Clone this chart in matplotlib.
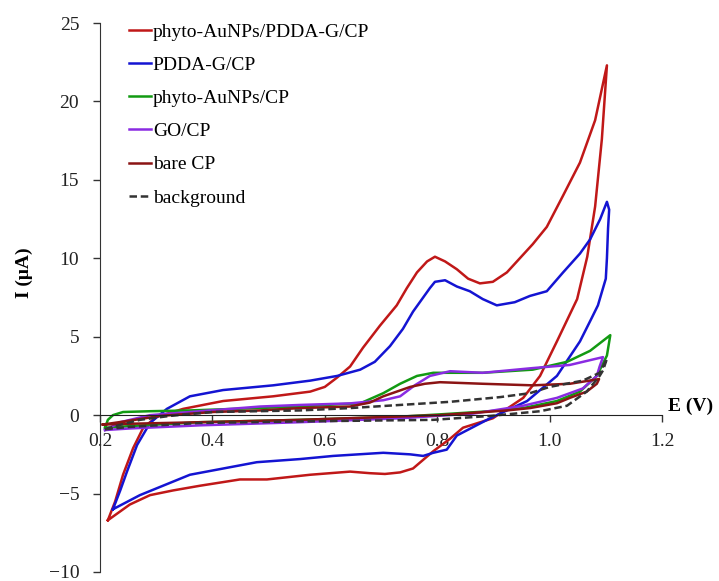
import matplotlib
matplotlib.use('Agg')
import matplotlib.pyplot as plt

plt.rcParams['font.family'] = ['Liberation Serif', 'DejaVu Serif']

# --- DATA (scan order around each loop) ---
labels = ['phyto-AuNPs/PDDA-G/CP', 'PDDA-G/CP', 'phyto-AuNPs/CP', 'GO/CP', 'bare CP', 'background']

E_au_pddag = [0.214, 0.227, 0.241, 0.259, 0.277, 0.301, 0.348, 0.419, 0.508, 0.574, 0.600, 0.622, 0.645,
              0.668, 0.698, 0.728, 0.746, 0.764, 0.782, 0.796, 0.814, 0.835, 0.855, 0.876, 0.899, 0.924,
              0.947, 0.970, 0.995, 1.024, 1.054, 1.081, 1.102,
              1.093, 1.081, 1.067, 1.049, 1.013, 0.983, 0.953, 0.899, 0.846, 0.823, 0.793, 0.757, 0.734,
              0.707, 0.680, 0.645, 0.574, 0.497, 0.449, 0.378, 0.330, 0.289, 0.253, 0.214]
I_au_pddag = [-6.7, -5.5, -3.8, -2.1, -0.8, -0.1, 0.4, 0.9, 1.2, 1.5, 1.8, 2.4, 3.1,
              4.3, 5.7, 7.0, 8.1, 9.1, 9.8, 10.1, 9.8, 9.3, 8.7, 8.4, 8.5, 9.1,
              10.0, 10.9, 12.0, 14.0, 16.1, 18.8, 22.3,
              17.6, 13.3, 10.1, 7.4, 4.7, 2.5, 1.1, -0.2, -0.8, -1.5, -2.3, -3.4, -3.65,
              -3.75, -3.7, -3.6, -3.8, -4.1, -4.1, -4.5, -4.8, -5.1, -5.7, -6.7]

E_pddag = [0.223, 0.236, 0.248, 0.266, 0.289, 0.319, 0.360, 0.419, 0.508, 0.574, 0.622, 0.663, 0.689,
           0.716, 0.739, 0.757, 0.773, 0.787, 0.796, 0.814, 0.835, 0.858, 0.881, 0.906, 0.938, 0.965,
           0.995, 1.024, 1.054, 1.072, 1.090, 1.102,
           1.106, 1.104, 1.102, 1.100, 1.086, 1.075, 1.054, 1.013, 0.960, 0.894, 0.835, 0.817, 0.793,
           0.775, 0.752, 0.704, 0.615, 0.556, 0.479, 0.360, 0.271, 0.223]
I_pddag = [-6.0, -4.8, -3.6, -1.9, -0.5, 0.4, 1.2, 1.6, 1.9, 2.2, 2.5, 2.9, 3.4,
           4.4, 5.5, 6.6, 7.4, 8.1, 8.5, 8.6, 8.2, 7.9, 7.4, 7.0, 7.2, 7.6,
           7.9, 9.1, 10.3, 11.2, 12.5, 13.6,
           13.1, 11.9, 10.0, 8.7, 7.0, 6.2, 4.7, 2.5, 0.9, -0.2, -1.3, -2.2, -2.4,
           -2.6, -2.5, -2.4, -2.6, -2.8, -3.0, -3.8, -5.1, -6.0]

E_au = [0.209, 0.214, 0.223, 0.241, 0.289, 0.360, 0.479, 0.556, 0.627, 0.663, 0.704, 0.734, 0.764,
        0.793, 0.881, 0.970, 1.031, 1.072, 1.108,
        1.102, 1.084, 1.054, 1.013, 0.953, 0.894, 0.805, 0.734, 0.556, 0.378, 0.253, 0.209]
I_au = [-0.8, -0.3, 0.0, 0.2, 0.25, 0.3, 0.45, 0.55, 0.7, 0.75, 1.4, 2.0, 2.5,
        2.7, 2.7, 2.9, 3.4, 4.1, 5.1,
        3.8, 2.5, 1.5, 0.9, 0.45, 0.25, 0.05, -0.1, -0.3, -0.45, -0.7, -0.8]

E_go = [0.209, 0.236, 0.289, 0.378, 0.485, 0.556, 0.645, 0.704, 0.734, 0.760, 0.787, 0.823, 0.881,
        0.970, 1.036, 1.095,
        1.089, 1.084, 1.059, 1.013, 0.953, 0.864, 0.734, 0.556, 0.378, 0.253, 0.209]
I_go = [-0.95, -0.45, 0.0, 0.25, 0.55, 0.65, 0.75, 0.95, 1.2, 1.9, 2.5, 2.8, 2.7,
        3.0, 3.2, 3.7,
        3.1, 2.5, 1.7, 1.1, 0.6, 0.1, -0.2, -0.45, -0.65, -0.85, -0.95]

E_bare = [0.205, 0.253, 0.307, 0.401, 0.485, 0.556, 0.645, 0.680, 0.704, 0.752, 0.778, 0.805, 0.881,
          0.970, 1.036, 1.088,
          1.084, 1.066, 1.036, 1.013, 0.965, 0.924, 0.805, 0.680, 0.556, 0.378, 0.253, 0.205]
I_bare = [-0.6, -0.35, -0.05, 0.2, 0.3, 0.45, 0.55, 0.8, 1.2, 1.8, 2.0, 2.1, 2.0,
          1.9, 2.0, 2.3,
          2.0, 1.5, 1.1, 0.76, 0.45, 0.3, 0.0, -0.15, -0.3, -0.45, -0.55, -0.6]

E_bg = [0.209, 0.227, 0.271, 0.324, 0.401, 0.556, 0.645, 0.734, 0.823, 0.912, 0.965, 1.000, 1.059,
        1.089, 1.102,
        1.095, 1.089, 1.066, 1.031, 0.983, 0.894, 0.793, 0.556, 0.378, 0.253, 0.209]
I_bg = [-0.9, -0.7, -0.3, -0.05, 0.2, 0.3, 0.45, 0.65, 0.85, 1.15, 1.4, 1.8, 2.2,
        2.7, 3.6,
        2.85, 2.5, 1.5, 0.6, 0.25, -0.05, -0.3, -0.4, -0.5, -0.75, -0.9]

x_ticks = [0.2, 0.4, 0.6, 0.8, 1.0, 1.2]
x_ticklabels = ['0.2', '0.4', '0.6', '0.8', '1.0', '1.2']
y_ticks = [-10, -5, 0, 5, 10, 15, 20, 25]

# --- PLOT ---
fig = plt.figure(figsize=(7.19, 5.81), dpi=100)
ax = fig.add_axes([100 / 719, 1 - 572 / 581, 562 / 719, 549 / 581])

lw = 1.8
ax.plot(E_au_pddag, I_au_pddag, color='#C01818', lw=lw, label=labels[0])
ax.plot(E_pddag, I_pddag, color='#1414D2', lw=lw, label=labels[1])
ax.plot(E_au, I_au, color='#129A12', lw=lw, label=labels[2])
ax.plot(E_go, I_go, color='#8A2BE2', lw=lw, label=labels[3])
ax.plot(E_bare, I_bare, color='#8B1414', lw=lw, label=labels[4])
ax.plot(E_bg, I_bg, color='#333333', lw=lw, ls=(0, (3, 1.5)), label=labels[5])

ax.set_xlim(0.2, 1.2)
ax.set_ylim(-10, 25)
ax.spines['top'].set_visible(False)
ax.spines['right'].set_visible(False)
ax.spines['bottom'].set_position(('data', 0))
ax.spines['left'].set_color('#333333')
ax.spines['bottom'].set_color('#222222')

ax.set_xticks(x_ticks)
ax.set_xticklabels(x_ticklabels)
ax.set_yticks(y_ticks)
ax.tick_params(axis='both', direction='out', length=5, width=1, labelsize=14,
               colors='#333333', labelcolor='#222222')
ax.tick_params(axis='x', pad=8)
ax.tick_params(axis='y', pad=10)

ax.text(1.21, 0.55, 'E (V)', ha='left', va='center', fontsize=14, fontweight='bold')
ax.set_ylabel('I (μA)', fontsize=14, fontweight='bold')
ax.yaxis.set_label_coords(-0.12, 0.545)

ax.legend(loc='upper left', bbox_to_anchor=(0.037, 1.014), frameon=False, fontsize=14,
          handlelength=1.15, handletextpad=0.1, labelspacing=0.8, borderaxespad=0)

fig.savefig('out.png', dpi=100)
